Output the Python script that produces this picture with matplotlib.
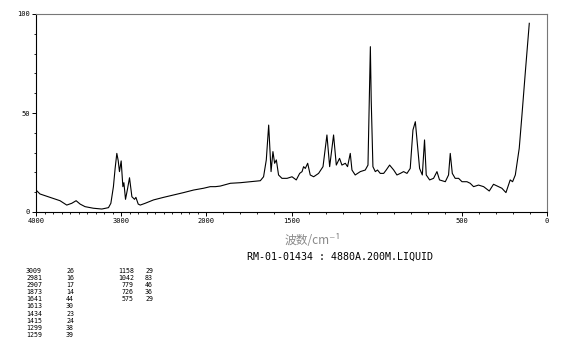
import numpy as np
import matplotlib
matplotlib.use("Agg")
import matplotlib.pyplot as plt
from matplotlib.ticker import FixedLocator, NullFormatter, FixedFormatter

# spectrum (wavenumber cm-1, intensity)
wavenumber = [4000, 3953, 3835, 3718, 3639, 3580, 3529, 3482, 3424, 3326,
              3227, 3149, 3121, 3091, 3071, 3051, 3035, 3020, 3000, 2980,
              2968, 2949, 2924, 2902, 2874, 2843, 2827, 2800, 2776, 2718,
              2620, 2502, 2385, 2267, 2149, 2032, 1977, 1947, 1918, 1859,
              1800, 1742, 1683, 1664, 1648, 1634, 1620, 1609, 1599, 1589,
              1576, 1556, 1526, 1497, 1472, 1452, 1438, 1429, 1419, 1405,
              1390, 1370, 1341, 1315, 1292, 1276, 1253, 1237, 1218, 1204,
              1184, 1171, 1155, 1145, 1126, 1096, 1067, 1051, 1043, 1037,
              1032, 1022, 1008, 995, 979, 959, 944, 924, 900, 881,
              861, 842, 822, 803, 787, 773, 760, 748, 732, 719,
              709, 689, 666, 646, 631, 597, 578, 568, 556, 539,
              519, 499, 470, 451, 431, 402, 372, 339, 314, 284,
              265, 241, 216, 202, 186, 163, 147, 127, 104]
intensity = [11.1, 9.1, 7.4, 5.7, 3.5, 4.4, 5.7, 4.0, 2.7, 1.9,
             1.5, 2.2, 4.4, 12.8, 22.0, 29.6, 26.0, 20.4, 25.8, 12.8,
             14.8, 6.4, 12.0, 17.3, 7.7, 6.4, 7.4, 4.0, 3.5, 4.4,
             6.1, 7.4, 8.6, 9.8, 11.1, 12.0, 12.8, 12.8, 13.1, 14.5,
             14.8, 15.3, 15.8, 17.8, 26.3, 43.9, 20.4, 30.5, 24.6, 26.3,
             18.7, 17.0, 17.0, 17.8, 16.2, 19.5, 20.4, 22.9, 22.0, 24.6,
             18.7, 17.8, 19.5, 22.9, 38.9, 22.9, 38.9, 23.7, 27.1, 23.7,
             24.6, 22.9, 29.6, 21.2, 18.7, 20.4, 21.2, 23.7, 56.6, 83.5,
             56.6, 22.9, 20.4, 21.2, 19.5, 19.5, 21.2, 23.7, 21.2, 18.7,
             19.5, 20.4, 19.5, 22.0, 41.4, 45.6, 33.0, 22.0, 18.7, 36.4,
             18.7, 16.2, 17.0, 20.4, 16.2, 15.3, 18.7, 29.6, 19.5, 17.0,
             17.0, 15.3, 15.3, 14.5, 12.8, 13.6, 12.8, 10.6, 14.0, 12.8,
             12.0, 9.8, 16.2, 15.3, 18.7, 32.2, 49.0, 70.9, 95.3]

# peak table printed under the chart
col1_pos = [3009, 2981, 2907, 1873, 1641, 1613, 1434, 1415, 1299, 1259]
col1_int = [26, 16, 17, 14, 44, 30, 23, 24, 38, 39]
col2_pos = [1158, 1042, 779, 726, 575]
col2_int = [29, 83, 46, 36, 29]

major_ticks = [4000, 3000, 2000, 1500, 500, 0]
y_ticks = [0, 50, 100]


# x axis is compressed by half above 2000 cm-1
def fwd(x):
    x = np.asarray(x, dtype=float)
    return np.where(x > 2000, 2000 + (x - 2000) / 2, x)


def inv(u):
    u = np.asarray(u, dtype=float)
    return np.where(u > 2000, 2000 + (u - 2000) * 2, u)


W, H = 570, 346
fig = plt.figure(figsize=(W / 100, H / 100), dpi=100)
ax = fig.add_axes([36 / W, 1 - 212 / H, 511 / W, 198 / H])

ax.plot(wavenumber, intensity, color="black", lw=0.8)

ax.set_xscale("function", functions=(fwd, inv))
ax.set_xlim(4000, 0)
ax.set_ylim(0, 100)

mono = "DejaVu Sans Mono"
ax.xaxis.set_major_locator(FixedLocator(major_ticks))
ax.xaxis.set_major_formatter(FixedFormatter([str(t) for t in major_ticks]))
ax.xaxis.set_minor_locator(FixedLocator(list(range(0, 4001, 100))))
ax.xaxis.set_minor_formatter(NullFormatter())
ax.yaxis.set_major_locator(FixedLocator(y_ticks))
ax.yaxis.set_minor_locator(FixedLocator(list(range(0, 101, 10))))
ax.yaxis.set_minor_formatter(NullFormatter())

ax.tick_params(which="major", length=3, width=0.7, labelsize=5, pad=1.5)
ax.tick_params(which="minor", length=1.5, width=0.6)
for lab in ax.get_xticklabels() + ax.get_yticklabels():
    lab.set_family(mono)

for s in ["top", "right"]:
    ax.spines[s].set_color("#777777")
    ax.spines[s].set_linewidth(0.8)
for s in ["left", "bottom"]:
    ax.spines[s].set_color("black")
    ax.spines[s].set_linewidth(0.8)

fig.text(313 / W, 1 - 240 / H, "波数/cm⁻¹", ha="center", va="center",
         fontsize=8.5, color="#888888",
         family=["Noto Sans CJK SC", "DejaVu Sans"])
fig.text(340 / W, 1 - 257 / H, "RM-01-01434 : 4880A.200M.LIQUID",
         ha="center", va="center", fontsize=7.2, family=mono)

row_h = 7.1
for i, (p, v) in enumerate(zip(col1_pos, col1_int)):
    y = 1 - (271 + i * row_h) / H
    fig.text(42 / W, y, str(p), ha="right", va="center", fontsize=4.8, family=mono)
    fig.text(74 / W, y, str(v), ha="right", va="center", fontsize=4.8, family=mono)
for i, (p, v) in enumerate(zip(col2_pos, col2_int)):
    y = 1 - (271 + i * row_h) / H
    fig.text(134 / W, y, str(p), ha="right", va="center", fontsize=4.8, family=mono)
    fig.text(153 / W, y, str(v), ha="right", va="center", fontsize=4.8, family=mono)

fig.savefig("out.png", dpi=100)
